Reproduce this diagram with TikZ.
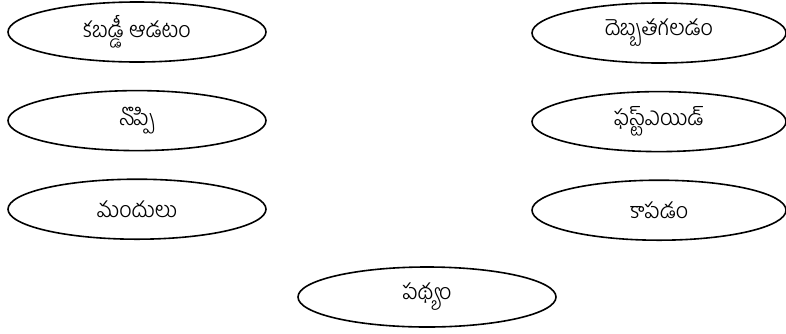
\documentclass[tikz,border=0pt]{standalone}
\usepackage{fontspec}
\newfontfamily\telugufont[Script=Telugu]{Hind Guntur Light}
\usetikzlibrary{positioning,shapes.geometric}

\begin{document}
\begin{tikzpicture}[
    x=1pt, y=1pt,
    node distance=27pt,
    base/.style={ellipse, draw, line width=1.6pt, minimum width=258pt,
                 minimum height=60pt, inner sep=0pt,
                 font=\telugufont\fontsize{22}{26}\selectfont},
]
\useasboundingbox (0,0) rectangle (786,-333);

\node[base] (kabaddi) at (137,-32) {కబడ్డీ ఆడటం};
\node[base, below=of kabaddi] (noppi) {నొప్పి};
\node[base, below=of noppi] (mandulu) {మందులు};

\node[base, minimum width=254pt] (debba) at (659,-33) {దెబ్బతగలడం};
\node[base, minimum width=254pt, below=of debba] (firstaid) {ఫస్ట్ఎయిడ్};
\node[base, minimum width=254pt, below=of firstaid] (kapadam) {కాపడం};

\node[base] (pathyam) at (427,-297) {పథ్యం};
\end{tikzpicture}
\end{document}
